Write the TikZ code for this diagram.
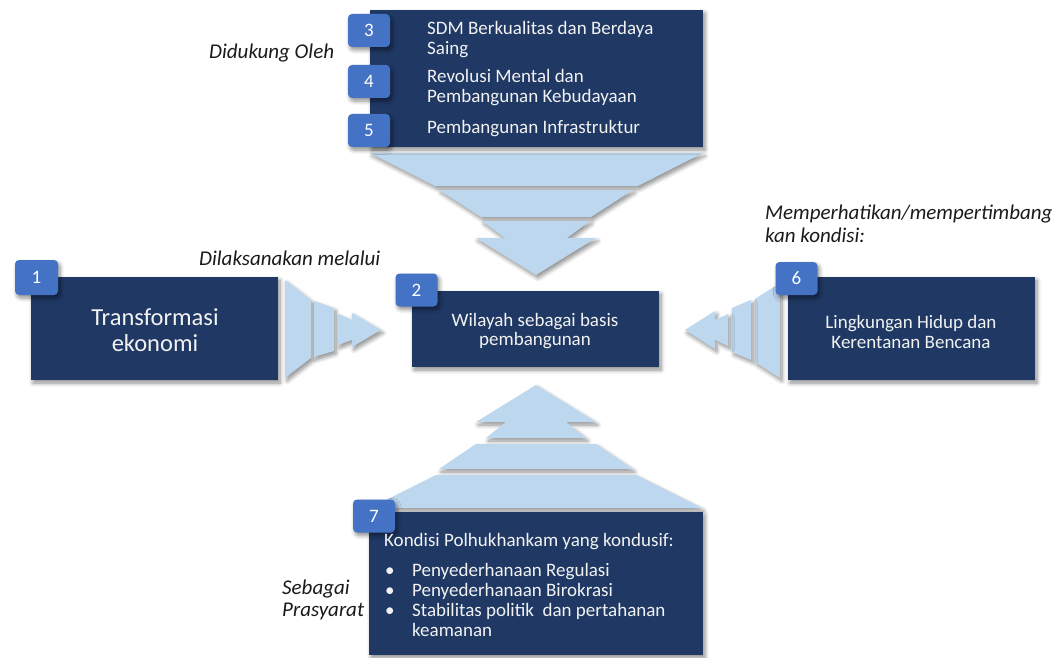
\documentclass[tikz,border=0pt]{standalone}
\usepackage{fontspec}
\setmainfont{Carlito}
\usetikzlibrary{shadows.blur}
\definecolor{navy}{HTML}{1F3864}
\definecolor{badgeblue}{HTML}{4472C4}
\definecolor{arrowblue}{HTML}{BDD7EE}
\definecolor{boxtext}{HTML}{F2F2F2}
\definecolor{lbltext}{HTML}{1A1A1A}
\begin{document}
\begin{tikzpicture}[x=1pt,y=-1pt,
  shad/.style={blur shadow={shadow xshift=2pt,shadow yshift=-3pt,shadow blur steps=6,shadow blur radius=4pt,shadow opacity=45}},
  box/.style={fill=navy,draw=none,inner sep=0pt,shad},
  badge/.style={fill=badgeblue,rounded corners=4pt,minimum width=42pt,minimum height=33pt,inner sep=0pt,text=white,font=\fontsize{19}{20}\selectfont,shad},
  chev/.style={fill=arrowblue,shad},
  boxtxt/.style={text=boxtext,font=\fontsize{19}{19.5}\selectfont,inner sep=0pt},
  bigtxt/.style={text=boxtext,font=\fontsize{24.5}{26}\selectfont,inner sep=0pt,align=center},
  lbl/.style={text=lbltext,font=\itshape\fontsize{21}{22.5}\selectfont,inner sep=0pt,align=left,anchor=west}]
\useasboundingbox (0,0) rectangle (1060,658);
% ---- chevron arrows ----
% top, pointing down
\fill[chev] (370,153) -- (703,153) -- (638,186) -- (435,186) -- cycle;
\fill[chev] (439,190) -- (633,190) -- (591,217) -- (481,217) -- cycle;
\fill[chev] (482,221) -- (590,221) -- (567,238) -- (596,238) -- (536,275) -- (476,238) -- (505,238) -- cycle;
% bottom, pointing up
\fill[chev] (536,385) -- (596,422) -- (566,422) -- (586,438) -- (486,438) -- (506,422) -- (476,422) -- cycle;
\fill[chev] (476,444) -- (596,444) -- (633,469) -- (439,469) -- cycle;
\fill[chev] (436,475) -- (636,475) -- (702,508) -- (370,508) -- cycle;
% left, pointing right
\fill[chev] (285,280) -- (311,300) -- (311,358) -- (285,378) -- cycle;
\fill[chev] (314,301) -- (334,308) -- (334,351) -- (314,357) -- cycle;
\fill[chev] (338,314) -- (352,320) -- (352,313) -- (381,330) -- (352,347) -- (352,340) -- (338,345) -- cycle;
% right, pointing left
\fill[chev] (780,283) -- (780,378) -- (755,362) -- (755,299) -- cycle;
\fill[chev] (751,300) -- (751,360) -- (732,352) -- (732,308) -- cycle;
\fill[chev] (728,314) -- (728,346) -- (715,340) -- (715,349) -- (685,330) -- (715,311) -- (715,320) -- cycle;
% ---- boxes ----
\node[box,minimum width=333pt,minimum height=137pt] (topbox) at (536.5,78.5) {};
\node[box,minimum width=247pt,minimum height=103pt] (box1) at (154.5,328.5) {};
\node[box,minimum width=247pt,minimum height=76pt] (box2) at (535.5,329) {};
\node[box,minimum width=247pt,minimum height=103pt] (box6) at (911.5,328.5) {};
\node[box,minimum width=334pt,minimum height=143pt] (box7) at (536,583.5) {};
% ---- badges ----
\node[badge] (b3) at (369,30.5) {3};
\node[badge] (b4) at (369,81.5) {4};
\node[badge] (b5) at (369,130.5) {5};
\node[badge,minimum width=43pt,minimum height=35pt] (b1) at (36.5,277.5) {1};
\node[badge] (b2) at (416.5,290) {2};
\node[badge] (b6) at (796.5,278.5) {6};
\node[badge] (b7) at (374,516) {7};
% ---- texts in boxes ----
\node[boxtxt,anchor=west,align=left] (t3) at (427,39.5) {SDM Berkualitas dan Berdaya\\Saing};
\node[boxtxt,anchor=west,align=left] (t4) at (427,87.5) {Revolusi Mental dan\\Pembangunan Kebudayaan};
\node[boxtxt,anchor=west,align=left] (t5) at (427,129) {Pembangunan Infrastruktur};
\node[bigtxt] (t1) at (155,330) {Transformasi\\ekonomi};
\node[boxtxt,align=center,font=\fontsize{19}{19}\selectfont] (t2) at (535,331) {Wilayah sebagai basis\\pembangunan};
\node[boxtxt,align=center,font=\fontsize{19}{20}\selectfont] (t6) at (911,332) {Lingkungan Hidup dan\\Kerentanan Bencana};
\node[boxtxt,anchor=west] (t7h) at (384,542) {Kondisi Polhukhankam yang kondusif:};
\node[boxtxt,anchor=west,align=left,font=\fontsize{19}{20.3}\selectfont] (t7) at (385,600)
  {\makebox[27pt][l]{•}Penyederhanaan Regulasi\\
   \makebox[27pt][l]{•}Penyederhanaan Birokrasi\\
   \makebox[27pt][l]{•}Stabilitas politik\ \ dan pertahanan\\
   \hspace*{27pt}keamanan};
% ---- italic labels ----
\node[lbl] (l1) at (209,53) {Didukung Oleh};
\node[lbl] (l2) at (199,258) {Dilaksanakan melalui};
\node[lbl] (l3) at (765,224) {Memperhatikan/mempertimbang\\kan kondisi:};
\node[lbl] (l4) at (282,600) {Sebagai\\Prasyarat};
\end{tikzpicture}
\end{document}
